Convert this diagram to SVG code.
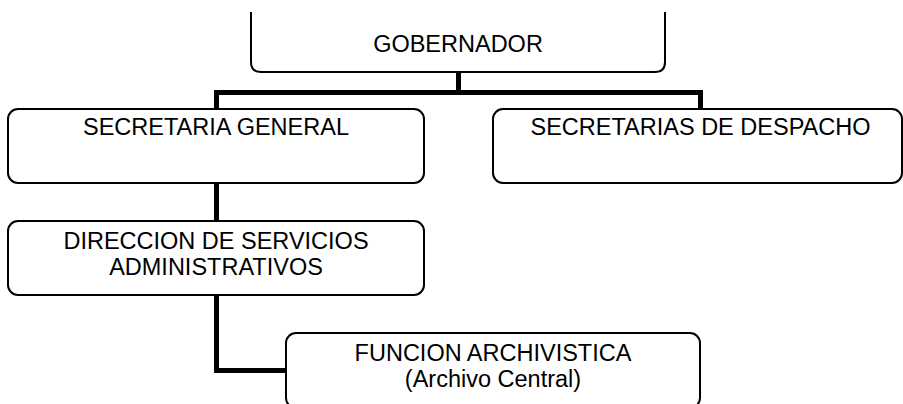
<svg xmlns="http://www.w3.org/2000/svg" width="903" height="404" viewBox="0 0 903 404">
<style>
.box{fill:#fff;stroke:#000;stroke-width:2}
.conn{fill:none;stroke:#000;stroke-width:5;stroke-linejoin:miter;stroke-linecap:butt}
text{font-family:"Liberation Sans",Arial,sans-serif;font-size:23.5px;fill:#000;text-anchor:middle}
</style>
<rect width="903" height="404" fill="#fff"/>
<g id="connectors">
<path class="conn" d="M458.5,72 V92.5 M216.5,110 V92.5 H700.5 V110"/>
<path class="conn" d="M216.5,183 V222"/>
<path class="conn" d="M216.5,295 V370.5 H287"/>
</g>
<g id="gobernador">
<path class="box" d="M251,12 V62 Q251,72 261,72 H655 Q665,72 665,62 V12"/>
<text x="458" y="52">GOBERNADOR</text>
</g>
<g id="secretaria-general">
<rect class="box" x="8" y="109" width="416" height="74" rx="10"/>
<text x="216" y="135">SECRETARIA GENERAL</text>
</g>
<g id="secretarias-despacho">
<rect class="box" x="493" y="109" width="409" height="74" rx="10"/>
<text x="700.5" y="135">SECRETARIAS DE DESPACHO</text>
</g>
<g id="direccion">
<rect class="box" x="8" y="221" width="416" height="74" rx="10"/>
<text x="216" y="249">DIRECCION DE SERVICIOS</text>
<text x="216" y="275">ADMINISTRATIVOS</text>
</g>
<g id="funcion">
<rect class="box" x="286" y="333" width="414" height="75" rx="10"/>
<text x="493" y="361">FUNCION ARCHIVISTICA</text>
<text x="493" y="387">(Archivo Central)</text>
</g>
</svg>
